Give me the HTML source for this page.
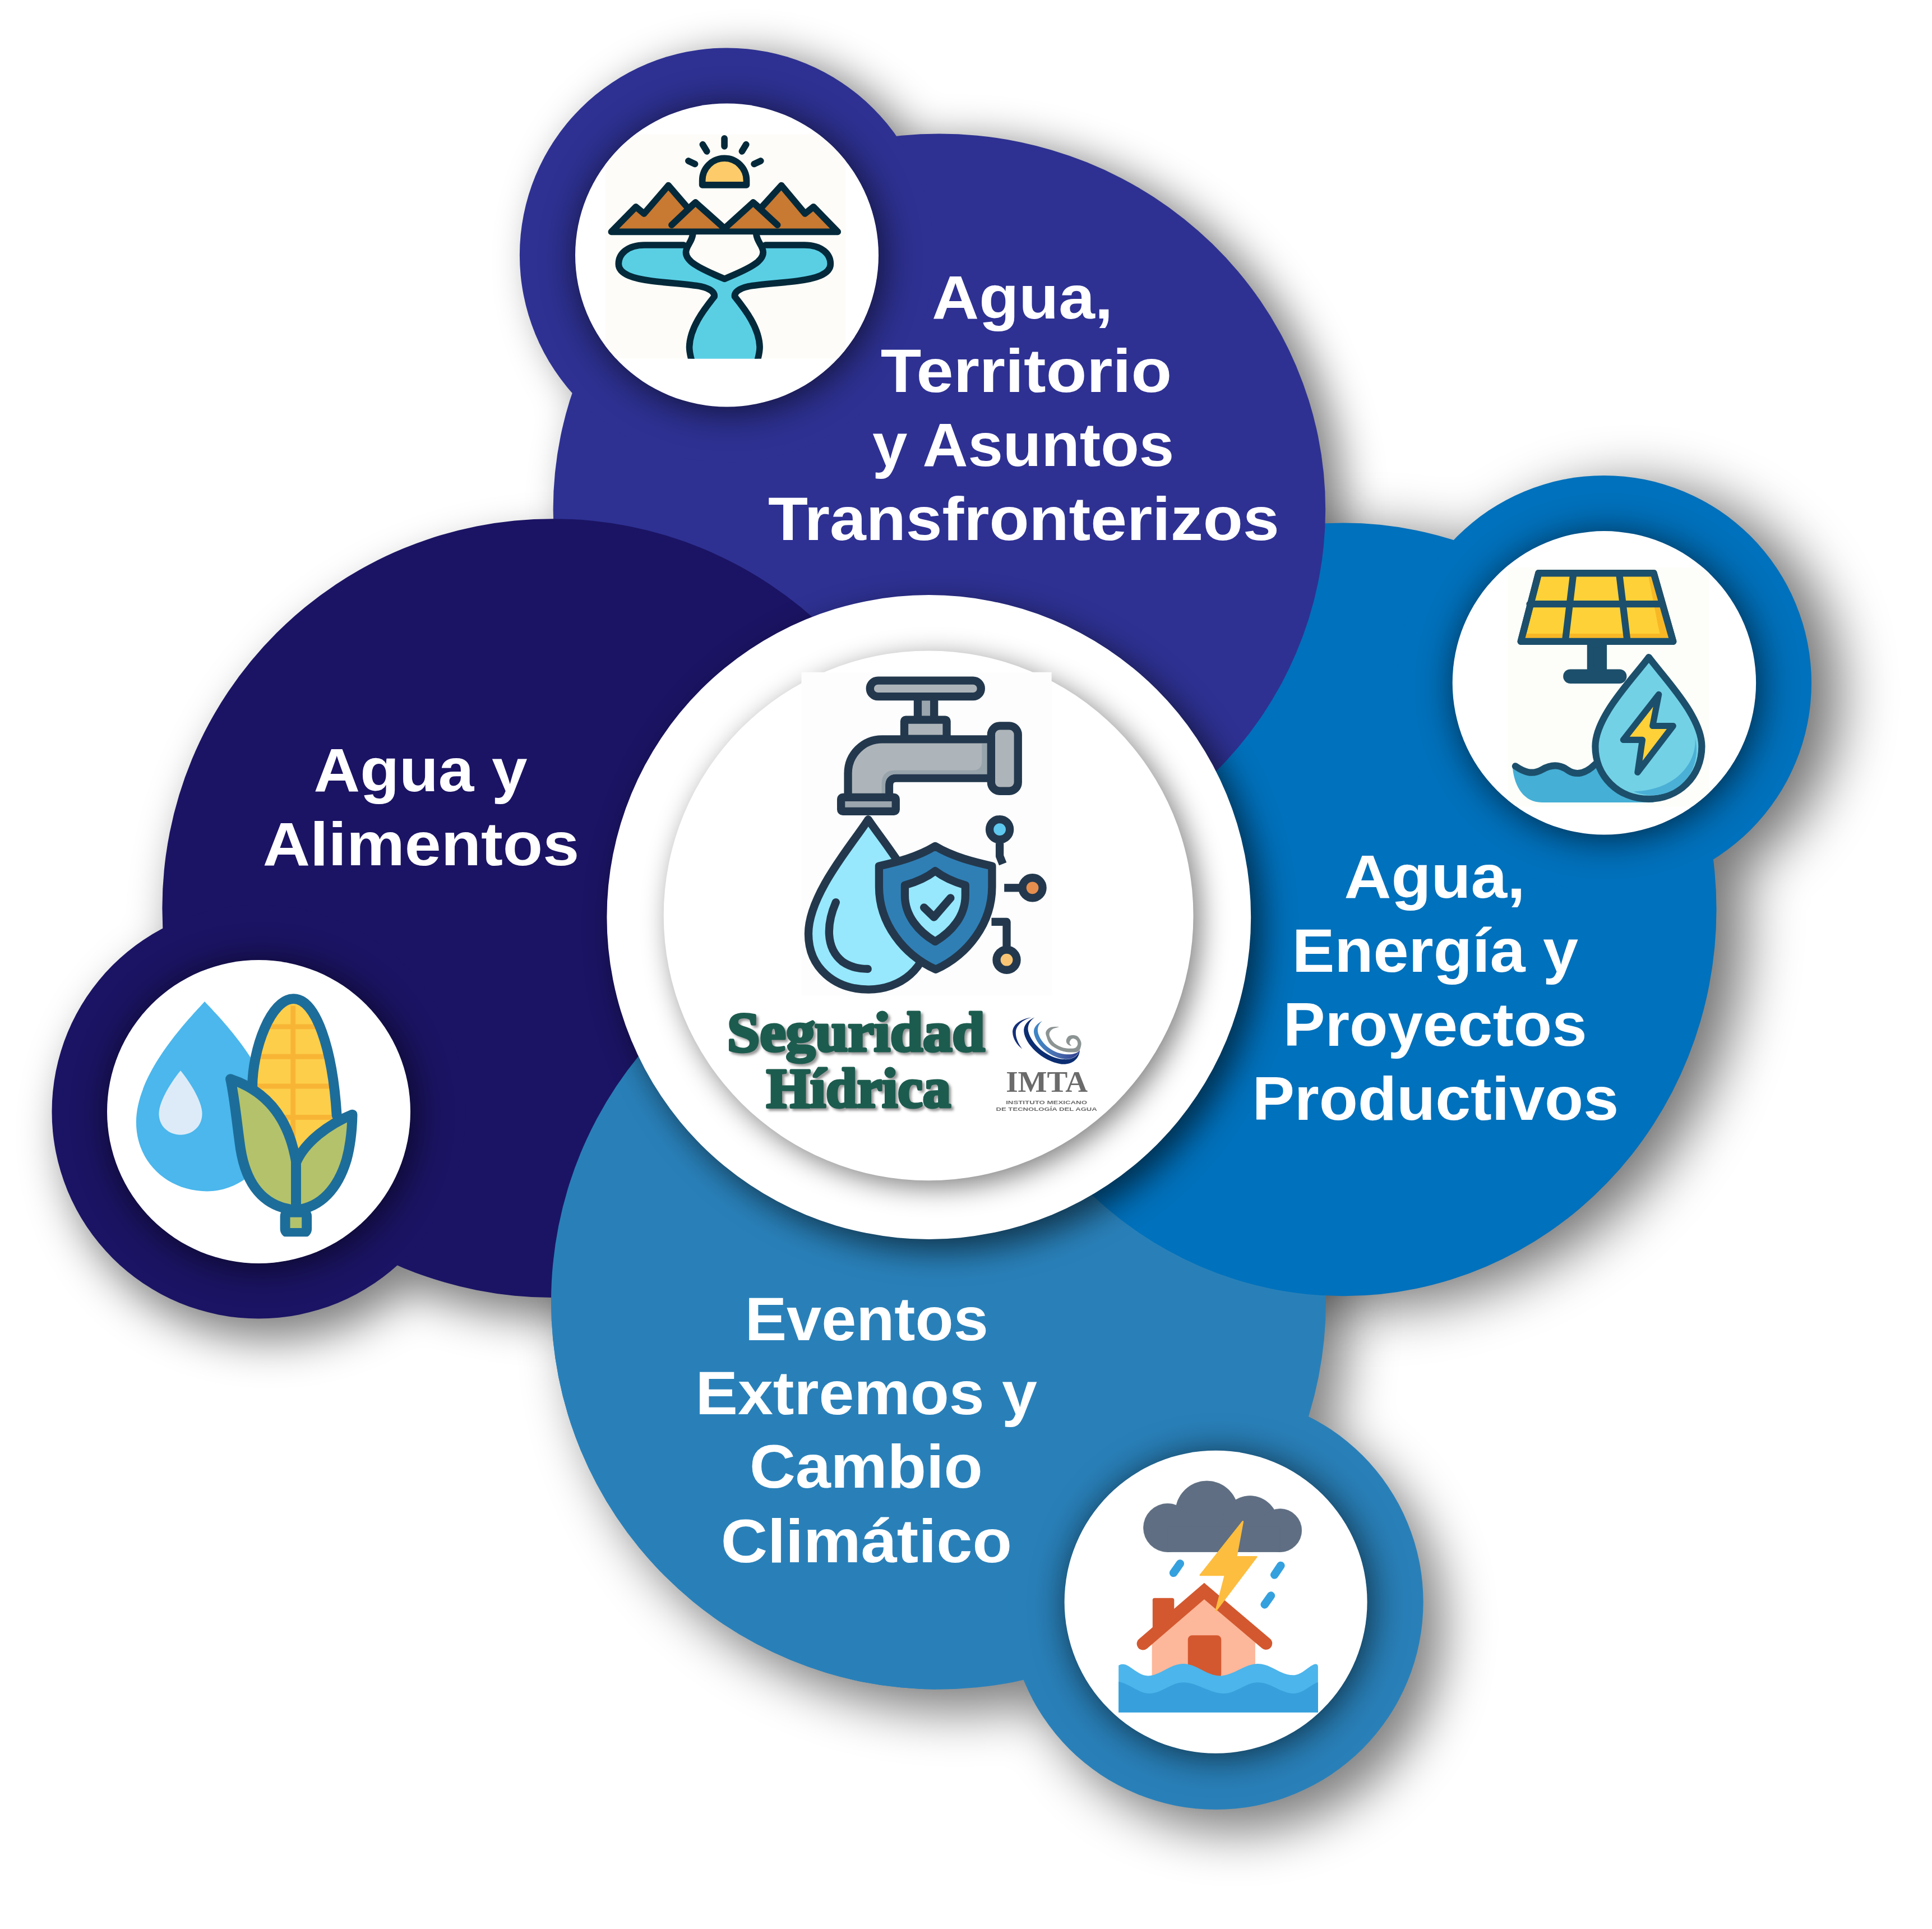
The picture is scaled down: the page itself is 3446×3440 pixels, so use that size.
<!DOCTYPE html>
<html lang="es"><head><meta charset="utf-8"><title>Seguridad Hídrica</title>
<style>html,body{margin:0;padding:0;background:#fff}body{width:3446px;height:3440px;overflow:hidden}svg{display:block}svg{font-family:"Liberation Sans",sans-serif}.lbl{font-weight:700;font-size:109px;fill:#fff}.ser{font-family:"Liberation Serif",serif}</style>
</head><body>
<svg width="3446" height="3440" viewBox="0 0 3446 3440">
<defs>
<filter id="b_indigo" x="-10%" y="-10%" width="120%" height="120%" filterUnits="objectBoundingBox"><feGaussianBlur stdDeviation="38"/></filter>
<filter id="b_navy" x="-10%" y="-10%" width="120%" height="120%" filterUnits="objectBoundingBox"><feGaussianBlur stdDeviation="40"/></filter>
<filter id="b_blue" x="-10%" y="-10%" width="120%" height="120%" filterUnits="objectBoundingBox"><feGaussianBlur stdDeviation="50"/></filter>
<filter id="b_lblue" x="-10%" y="-10%" width="120%" height="120%" filterUnits="objectBoundingBox"><feGaussianBlur stdDeviation="45"/></filter>
<filter id="b20" x="-20%" y="-20%" width="140%" height="140%"><feGaussianBlur stdDeviation="20"/></filter>
<filter id="b30" x="-20%" y="-20%" width="140%" height="140%"><feGaussianBlur stdDeviation="30"/></filter>
<filter id="b34" x="-25%" y="-25%" width="150%" height="150%"><feGaussianBlur stdDeviation="34"/></filter>
<filter id="b25" x="-20%" y="-20%" width="140%" height="140%"><feGaussianBlur stdDeviation="25"/></filter>
<filter id="b22" x="-20%" y="-20%" width="140%" height="140%"><feGaussianBlur stdDeviation="22"/></filter>
<filter id="tsh" x="-5%" y="-10%" width="110%" height="130%"><feDropShadow dx="4" dy="4" stdDeviation="2" flood-color="#555" flood-opacity="0.6"/></filter>
<clipPath id="leftclip"><rect x="0" y="0" width="1670" height="3440"/></clipPath>
<linearGradient id="imtag" x1="0" y1="0" x2="1" y2="0"><stop offset="0" stop-color="#3D88C8"/><stop offset="0.5" stop-color="#4A6DAE"/><stop offset="1" stop-color="#2F3C8F"/></linearGradient>
<clipPath id="cw_indigo"><circle cx="1296.5" cy="455" r="270.5" /></clipPath>
<clipPath id="cw_navy"><circle cx="461.5" cy="1982.5" r="270.5" /></clipPath>
<clipPath id="cw_blue"><circle cx="2861.4" cy="1217.8" r="270.7" /></clipPath>
<clipPath id="cw_lblue"><circle cx="2168.6" cy="2856.7" r="270" /></clipPath>
</defs>
<rect width="3446" height="3440" fill="#fff"/>
<g id="shadows">
<g filter="url(#b_indigo)" opacity="0.5" transform="translate(32,12)"><ellipse cx="1675.4" cy="908.5" rx="688.75" ry="669.9" /><circle cx="1296.5" cy="455" r="369.6" /></g>
<g filter="url(#b_navy)" opacity="0.5" transform="translate(22,38)"><ellipse cx="986.2" cy="1619.6" rx="696.8" ry="694.4" /><circle cx="461.5" cy="1982.5" r="369" /></g>
<g filter="url(#b_blue)" opacity="0.55" transform="translate(50,18)"><ellipse cx="2396.2" cy="1621.8" rx="665.3" ry="689.4" /><circle cx="2861" cy="1218" r="370" /></g>
<g filter="url(#b_lblue)" opacity="0.5" transform="translate(36,40)"><ellipse cx="1674" cy="2321" rx="691" ry="691.7" /><circle cx="2168.6" cy="2857" r="370" /></g>
</g>
<g fill="#2980B9" ><ellipse cx="1674" cy="2321" rx="691" ry="691.7" /><circle cx="2168.6" cy="2857" r="370" /></g>
<g fill="#0071BC" ><ellipse cx="2396.2" cy="1621.8" rx="665.3" ry="689.4" /><circle cx="2861" cy="1218" r="370" /></g>
<g fill="#2E3192" ><ellipse cx="1675.4" cy="908.5" rx="688.75" ry="669.9" /><circle cx="1296.5" cy="455" r="369.6" /></g>
<g fill="#1B1464" ><ellipse cx="986.2" cy="1619.6" rx="696.8" ry="694.4" /><circle cx="461.5" cy="1982.5" r="369" /></g>
<g fill="#2980B9" clip-path="url(#leftclip)"><ellipse cx="1674" cy="2321" rx="691" ry="691.7" /><circle cx="2168.6" cy="2857" r="370" /></g>
<g filter="url(#b30)" opacity="0.6" transform="translate(20,20)"><circle cx="1656.8" cy="1635.5" r="574.4" /></g>
<circle cx="1656.8" cy="1635.5" r="574.4" fill="#fff"/>
<g filter="url(#b25)" opacity="0.5" transform="translate(12,12)"><circle cx="1656.1" cy="1632.9" r="472.4" /></g>
<circle cx="1656.1" cy="1632.9" r="472.4" fill="#fff"/>
<g filter="url(#b34)" opacity="0.65" transform="translate(6,6)"><circle cx="1296.5" cy="455" r="270.5" /></g>
<circle cx="1296.5" cy="455" r="270.5" fill="#fff"/>
<g filter="url(#b34)" opacity="0.65" transform="translate(6,6)"><circle cx="461.5" cy="1982.5" r="270.5" /></g>
<circle cx="461.5" cy="1982.5" r="270.5" fill="#fff"/>
<g filter="url(#b34)" opacity="0.65" transform="translate(6,6)"><circle cx="2861.4" cy="1217.8" r="270.7" /></g>
<circle cx="2861.4" cy="1217.8" r="270.7" fill="#fff"/>
<g filter="url(#b34)" opacity="0.65" transform="translate(6,6)"><circle cx="2168.6" cy="2856.7" r="270" /></g>
<circle cx="2168.6" cy="2856.7" r="270" fill="#fff"/>
<!-- ICON: faucet (center) -->
<rect x="1429.5" y="1198.7" width="446.2" height="576" fill="#FDFDFD"/>
<g id="ic-faucet" transform="translate(1400,1180) scale(0.31095)" stroke="#23384D" stroke-width="46" stroke-linejoin="round" stroke-linecap="round">
  <!-- drop -->
  <path d="M478 905 C400 1030 135 1330 135 1560 C135 1760 290 1880 480 1880 C660 1880 821 1760 821 1560 C821 1330 560 1030 478 905Z" fill="#97E8FD"/>
  <path d="M292 1380 C240 1500 230 1640 330 1720 C380 1755 430 1762 475 1762" fill="none"/>
  <!-- stem & handle -->
  <rect x="762" y="200" width="94" height="140" fill="#9AA5AD"/>
  <rect x="488" y="108" width="637" height="92" rx="46" fill="#AEB5BA"/>
  <rect x="685" y="333" width="243" height="110" rx="8" fill="#AEB5BA"/>
  <!-- body -->
  <path d="M362 780 V640 A195 195 0 0 1 557 445 H1190 V668 H640 Q598 668 598 710 V780Z" fill="#AEB5BA"/>
  <path d="M555 765 V700 Q555 622 633 622 H1080 Q1130 622 1130 570 V470 H1165 V645 H640 Q576 645 576 710 V765Z" fill="#98A4AC" stroke="none"/>
  <rect x="1183" y="368" width="154" height="374" rx="50" fill="#AEB5BA"/>
  <rect x="322" y="778" width="314" height="80" rx="10" fill="#9AA5AD"/>
  <!-- shield -->
  <path d="M862 1058 C760 1120 640 1150 540 1172 V1290 C540 1500 680 1680 865 1765 C1050 1680 1188 1500 1188 1290 V1172 C1090 1150 965 1120 862 1058Z" fill="#2F7FB5"/>
  <path d="M862 1200 C810 1240 750 1265 688 1282 V1340 C688 1460 770 1550 862 1605 C955 1550 1035 1460 1035 1340 V1282 C975 1265 915 1240 862 1200Z" fill="#97E8FD"/>
  <path d="M798 1410 L855 1465 L950 1355" fill="none"/>
  <!-- nodes -->
  <path d="M1232 1040 V1115 Q1240 1135 1250 1160" fill="none" stroke-linecap="butt"/>
  <circle cx="1232" cy="962" r="58" fill="#5EC8EE"/>
  <path d="M1258 1297 H1345" fill="none" stroke-linecap="butt"/>
  <circle cx="1420" cy="1297" r="58" fill="#E58E4E"/>
  <path d="M1185 1492 H1272 V1645" fill="none" stroke-linecap="butt"/>
  <circle cx="1272" cy="1710" r="58" fill="#F9C574"/>
</g>

<!-- ICON: mountains & river (indigo) -->
<g clip-path="url(#cw_indigo)"><g id="ic-mount" transform="translate(1060,220) scale(0.24327)"><clipPath id="cm"><rect x="80" y="80" width="1765" height="1645"/></clipPath><g clip-path="url(#cm)">
  <rect x="80" y="80" width="1765" height="1645" fill="#FDFCF8"/>
  <g stroke="#04293A" stroke-width="48" stroke-linejoin="round" stroke-linecap="round">
    <path d="M792 452 V418 A162 162 0 0 1 1116 418 V452Z" fill="#FDCB69"/>
    <path d="M954 110 V168 M795 155 L825 205 M1113 155 L1083 205 M690 275 L738 298 M1220 275 L1172 298" fill="none"/>
    <path d="M125 795 L305 612 L365 662 L543 455 L690 625 L742 580 L955 770 L1165 580 L1218 625 L1372 455 L1545 662 L1607 612 L1785 795Z" fill="#C87932"/>
    <path d="M742 580 L567 745 M1165 580 L1343 745" fill="none"/>
    <path d="M655 892 H370 C240 892 178 960 178 1030 C178 1110 300 1140 420 1155 C560 1172 700 1180 780 1195 C850 1210 885 1240 880 1270 C800 1370 700 1500 697 1640 C697 1680 705 1710 720 1760 H1190 C1205 1710 1213 1680 1213 1640 C1210 1500 1110 1370 1030 1270 C1025 1240 1060 1210 1130 1195 C1210 1180 1350 1172 1490 1155 C1610 1140 1732 1110 1732 1030 C1732 960 1670 892 1540 892 H1255 C1245 1010 1150 1060 955 1140 C760 1060 665 1010 655 892Z" fill="#5ACFE4" stroke="none"/>
    <path d="M655 892 H370 C240 892 178 960 178 1030 C178 1110 300 1140 420 1155 C560 1172 700 1180 780 1195 C850 1210 885 1240 880 1270 C800 1370 700 1500 697 1640 C697 1680 705 1710 720 1760" fill="none"/>
    <path d="M1255 892 H1540 C1670 892 1732 960 1732 1030 C1732 1110 1610 1140 1490 1155 C1350 1172 1210 1180 1130 1195 C1060 1210 1025 1240 1030 1270 C1110 1370 1210 1500 1213 1640 C1213 1680 1205 1710 1190 1760" fill="none"/>
    <path d="M722 815 C715 870 672 900 672 945 C672 1010 760 1060 955 1140 C1150 1060 1238 1010 1238 945 C1238 900 1195 870 1188 815" fill="#FDFCF8"/>
  </g>
</g></g></g>

<!-- ICON: drop & corn (navy) -->
<g id="ic-corn" transform="translate(220,1750) scale(0.24878)">
  <path d="M583 145 C480 260 92 650 92 1010 C92 1300 320 1505 600 1505 C850 1505 1080 1300 1080 1010 C1080 650 690 260 583 145Z" fill="#4BB7EC"/>
  <path d="M410 640 C360 700 255 850 255 950 C255 1040 325 1100 410 1100 C495 1100 565 1040 565 950 C565 850 460 700 410 640Z" fill="#DDEBF8"/>
  <g stroke="#1D6D9A" stroke-width="72" stroke-linejoin="round" stroke-linecap="round">
    <path d="M1220 125 C1060 125 925 480 925 760 C925 1000 1100 1300 1250 1300 C1400 1300 1540 1150 1530 960 C1500 480 1380 125 1220 125Z" fill="#FDCE4A" stroke="none"/>
  </g>
  <g stroke="#F8B535" stroke-width="36" fill="none">
    <path d="M1217 175 V1230 M1010 325 H1430 M975 540 H1480 M960 752 H1500 M1100 975 H1505"/>
  </g>
  <g stroke="#1D6D9A" stroke-width="72" stroke-linejoin="round" stroke-linecap="round">
    <path d="M1220 125 C1060 125 925 480 925 760 M1530 960 C1500 480 1380 125 1220 125" fill="none"/>
    <rect x="1160" y="1655" width="155" height="150" rx="30" fill="#B4C26B"/>
    <path d="M768 700 C950 760 1170 900 1238 1290 V1640 C1000 1620 880 1450 840 1200 C815 1030 800 850 768 700Z" fill="#B4C26B"/>
    <path d="M1642 955 C1480 1020 1300 1150 1238 1300 V1640 C1420 1620 1540 1480 1600 1280 C1630 1170 1640 1060 1642 955Z" fill="#B4C26B"/>
  </g>
  <rect x="1100" y="1830" width="280" height="40" fill="#fff"/>
</g>

<!-- ICON: solar + drop (blue) -->
<rect x="2689.5" y="1012" width="359" height="426" fill="#FDFDF9" clip-path="url(#cw_blue)"/>
<g id="ic-solar" transform="translate(2670,990) scale(0.2436)">
  <path d="M115 1560 C200 1590 260 1610 330 1570 C400 1530 460 1530 520 1575 C580 1615 650 1600 720 1530 L1150 1810 H330 C200 1810 130 1700 115 1560Z" fill="#45AFD6"/>
  <g stroke="#1C4F6B" stroke-width="50" stroke-linejoin="round" stroke-linecap="round">
    <path d="M135 1545 C200 1590 260 1610 330 1570 C400 1530 460 1530 520 1575 C580 1615 650 1600 720 1530" fill="none"/>
    <rect x="685" y="650" width="95" height="200" fill="#1C4F6B"/>
    <rect x="510" y="860" width="415" height="55" rx="27" fill="#1C4F6B"/>
    <path d="M305 132 L1148 132 L1290 632 L175 632Z" fill="#FFD138"/>
  </g>
  <path d="M205 575 H1235 L1250 607 H198Z M1110 157 L1140 157 L1265 607 L1200 607 Q1190 560 1180 520Z" fill="#F8B826"/>
  <g stroke="#1C4F6B" stroke-width="50" stroke-linejoin="round" stroke-linecap="round">
    <path d="M305 132 L1148 132 L1290 632 L175 632Z M240 358 H1212 M560 132 L500 632 M895 132 L955 632" fill="none"/>
    <path d="M1112 748 C1000 900 720 1180 720 1400 C720 1620 890 1785 1112 1785 C1330 1785 1500 1620 1500 1400 C1500 1180 1225 900 1112 748Z" fill="#73D1E6"/>
  </g>
  <path d="M1450 1330 C1470 1500 1330 1720 1000 1730 C1100 1770 1200 1765 1290 1720 C1420 1650 1490 1500 1450 1330Z" fill="#4BB0D6"/>
  <g stroke="#1C4F6B" stroke-width="46" stroke-linejoin="round" stroke-linecap="round">
    <path d="M1185 1020 L925 1352 L1065 1352 L1030 1590 L1290 1250 L1140 1250Z" fill="#FFD138"/>
  </g>
</g>

<!-- ICON: flood (light blue) -->
<g id="ic-flood" transform="translate(1980,2620) scale(0.23325)">
  <g fill="#5F6E82" stroke="#5F6E82" stroke-width="3">
    <circle cx="740" cy="330" r="240"/><circle cx="1070" cy="418" r="214"/><circle cx="440" cy="448" r="185"/><circle cx="1300" cy="468" r="165"/>
    <rect x="440" y="440" width="860" height="193"/>
  </g>
  <g stroke="#35A0DE" stroke-width="62" stroke-linecap="round" fill="none">
    <path d="M535 722 L485 793 M1305 737 L1257 808 M1230 967 L1182 1035"/>
  </g>
  <rect x="325" y="985" width="165" height="300" rx="15" fill="#D3582F"/>
  <path d="M320 1285 L720 985 L1110 1285 V1590 H320Z" fill="#FDB79A"/>
  <path d="M252 1335 L720 932 L1192 1332" fill="none" stroke="#D3582F" stroke-width="96" stroke-linecap="round" stroke-linejoin="miter"/>
  <rect x="595" y="1270" width="255" height="330" rx="32" fill="#D3582F"/>
  <path d="M1015 400 L690 810 L880 810 L810 1080 L1120 670 L965 670Z" fill="#FDBD3F" stroke="#FDBD3F" stroke-width="12" stroke-linejoin="round"/>
  <path d="M65 1500 Q100 1480 140 1505 C200 1545 240 1580 290 1580 C380 1580 460 1488 560 1488 C660 1488 740 1580 840 1580 C940 1580 1030 1488 1130 1488 C1230 1488 1300 1575 1400 1575 C1470 1575 1520 1500 1570 1490 Q1590 1490 1590 1510 V1860 H65Z" fill="#4CB5EB"/>
  <path d="M65 1625 C150 1640 220 1715 300 1715 C390 1715 470 1630 560 1630 C660 1630 770 1715 870 1715 C960 1715 1040 1630 1130 1630 C1230 1630 1310 1715 1400 1715 C1480 1715 1540 1640 1590 1630 V1860 H65Z" fill="#37A0DC"/>
</g>

<!-- IMTA logo -->
<g id="ic-imta" transform="translate(1760,1790) scale(0.1139)">
  <path d="M700 212 C520 240 400 330 405 450 C410 550 470 640 555 708 C490 620 450 530 455 440 C460 340 560 250 700 212Z" fill="#14307A"/>
  <path d="M750 212 C640 260 570 340 582 440 C600 620 850 900 1170 945 C1330 960 1450 870 1458 720 C1430 830 1330 880 1200 870 C950 850 700 640 650 430 C630 340 680 260 750 212Z" fill="#0B2D72"/>
  <path d="M870 268 C790 310 730 370 738 450 C760 620 960 830 1210 865 C1330 880 1420 820 1455 730 C1400 790 1310 800 1220 790 C1010 770 830 600 800 440 C790 370 820 310 870 268Z" fill="url(#imtag)"/>
  <path d="M1130 362 C1123 358 1033 357 1000 368 C967 379 941 406 930 430 C919 454 923 475 935 510 C947 545 959 602 1000 640 C1041 678 1123 720 1180 740 C1237 760 1297 760 1340 760 C1383 760 1417 758 1440 740 C1463 722 1473 677 1478 650 C1483 623 1480 603 1470 580 C1460 557 1440 525 1420 510 C1400 495 1373 492 1350 492 C1327 492 1298 497 1280 510 C1262 523 1249 552 1245 570 C1241 588 1248 607 1255 620 C1262 633 1278 644 1290 650 C1302 656 1323 659 1325 655 C1327 651 1304 636 1300 625 C1296 614 1295 602 1300 590 C1305 578 1318 557 1330 550 C1342 543 1357 544 1370 548 C1383 552 1401 561 1410 575 C1419 589 1427 612 1425 630 C1423 648 1414 668 1400 680 C1386 692 1373 698 1340 700 C1307 702 1247 703 1200 690 C1153 677 1096 650 1060 620 C1024 590 997 540 985 510 C973 480 981 460 990 440 C999 420 1017 403 1040 390 C1063 377 1137 366 1130 362Z" fill="#8C9393"/>
</g>

<g opacity="0.999">
<!-- TEXT -->
<g class="lbl">
  <text><tspan x="1662.2" y="568.2" textLength="323.0" lengthAdjust="spacingAndGlyphs">Agua,</tspan> <tspan x="1570.8" y="698.7" textLength="519.3" lengthAdjust="spacingAndGlyphs">Territorio</tspan> <tspan x="1556.0" y="830.6" textLength="538.1" lengthAdjust="spacingAndGlyphs">y Asuntos</tspan> <tspan x="1370.1" y="962.6" textLength="911.5" lengthAdjust="spacingAndGlyphs">Transfronterizos</tspan></text>
  <text><tspan x="559.6" y="1410.5" textLength="381.1" lengthAdjust="spacingAndGlyphs">Agua y</tspan> <tspan x="468.7" y="1542.8" textLength="564.4" lengthAdjust="spacingAndGlyphs">Alimentos</tspan></text>
  <text><tspan x="2397.5" y="1601.4" textLength="323.0" lengthAdjust="spacingAndGlyphs">Agua,</tspan> <tspan x="2304.7" y="1733.4" textLength="510.3" lengthAdjust="spacingAndGlyphs">Energía y</tspan> <tspan x="2288.8" y="1865.4" textLength="541.7" lengthAdjust="spacingAndGlyphs">Proyectos</tspan> <tspan x="2233.4" y="1997.4" textLength="653.7" lengthAdjust="spacingAndGlyphs">Productivos</tspan></text>
  <text><tspan x="1328.7" y="2390.2" textLength="434.0" lengthAdjust="spacingAndGlyphs">Eventos</tspan> <tspan x="1240.6" y="2521.7" textLength="609.3" lengthAdjust="spacingAndGlyphs">Extremos y</tspan> <tspan x="1336.9" y="2653.3" textLength="415.9" lengthAdjust="spacingAndGlyphs">Cambio</tspan> <tspan x="1285.7" y="2785.5" textLength="519.2" lengthAdjust="spacingAndGlyphs">Climático</tspan></text>
</g>
<g class="ser" font-weight="700" font-size="100" stroke-linejoin="round">
  <g fill="#1E5B50" stroke="#1E5B50" stroke-width="5" filter="url(#tsh)">
    <text><tspan x="1297" y="1874.2" textLength="459.5" lengthAdjust="spacingAndGlyphs">Seguridad</tspan> <tspan x="1367" y="1973.6" textLength="329" lengthAdjust="spacingAndGlyphs">Hídrica</tspan></text>
  </g>
</g>
<text class="ser" x="1794.2" y="1947.2" font-size="53" font-weight="700" fill="#6B6B6B" textLength="145.8" lengthAdjust="spacingAndGlyphs">IMTA</text>
<text font-size="8.4" font-weight="700" fill="#6B6B6B"><tspan x="1794.2" y="1968.6" textLength="144.8" lengthAdjust="spacingAndGlyphs">INSTITUTO MEXICANO</tspan> <tspan x="1776.5" y="1980.8" textLength="180.3" lengthAdjust="spacingAndGlyphs">DE TECNOLOGÍA DEL AGUA</tspan></text>

</g>

</svg></body></html>
